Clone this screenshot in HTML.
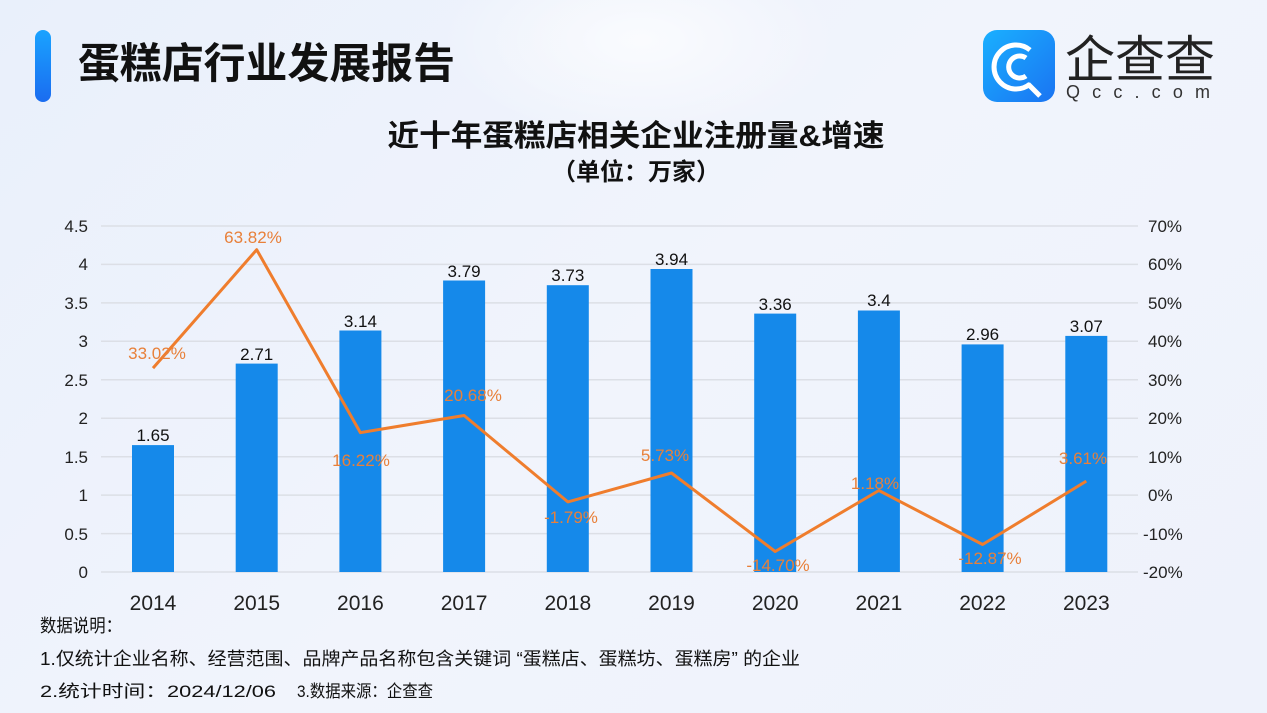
<!DOCTYPE html>
<html><head><meta charset="utf-8"><style>
html,body{margin:0;padding:0}
body{width:1267px;height:713px;overflow:hidden;background:linear-gradient(135deg,#e9f0fb 0%,#f1f4fc 50%,#eef2fb 100%);font-family:"Liberation Sans","Noto Sans CJK SC",sans-serif;position:relative}
</style></head><body>
<svg width="1267" height="713" style="position:absolute;left:0;top:0" font-family="Liberation Sans, Noto Sans CJK SC, sans-serif">
<defs><linearGradient id="bl" x1="0" y1="0" x2="0" y2="1"><stop offset="0" stop-color="#1aa3ff"/><stop offset="1" stop-color="#1a6cf0"/></linearGradient>
<linearGradient id="lg" x1="0" y1="0" x2="1" y2="1"><stop offset="0" stop-color="#1ab0ff"/><stop offset="1" stop-color="#1a74f2"/></linearGradient>
<radialGradient id="glow" cx="0.5" cy="0.5" r="0.5"><stop offset="0" stop-color="#ffffff" stop-opacity="0.7"/><stop offset="1" stop-color="#ffffff" stop-opacity="0"/></radialGradient></defs>
<ellipse cx="640" cy="40" rx="200" ry="100" fill="url(#glow)"/>
<rect x="35" y="30" width="16" height="72" rx="8" fill="url(#bl)"/>
<text x="78" y="78" font-size="42" font-weight="bold" fill="#111" textLength="377" lengthAdjust="spacingAndGlyphs">蛋糕店行业发展报告</text>
<rect x="983" y="30" width="72" height="72" rx="14" fill="url(#lg)"/>
<path d="M1030 50 A22 22 0 1 0 1030 84" fill="none" stroke="#fff" stroke-width="5"/>
<path d="M1026 58 A11 11 0 1 0 1026 76" fill="none" stroke="#fff" stroke-width="5"/>
<line x1="1028" y1="84" x2="1040" y2="96" stroke="#fff" stroke-width="5"/>
<text x="1065" y="77" font-size="50" fill="#222" textLength="150" lengthAdjust="spacingAndGlyphs">企查查</text>
<text x="1066" y="98" font-size="18" fill="#333" textLength="144" lengthAdjust="spacing">Qcc.com</text>
<text x="636" y="146" font-size="30" font-weight="bold" fill="#111" text-anchor="middle" textLength="497" lengthAdjust="spacingAndGlyphs">近十年蛋糕店相关企业注册量&amp;增速</text>
<text x="636" y="180" font-size="24" font-weight="bold" fill="#111" text-anchor="middle">（单位：万家）</text>
<g stroke="#dcdfe6" stroke-width="1.5">
<line x1="101" x2="1138" y1="226" y2="226"/><line x1="101" x2="1138" y1="264.4" y2="264.4"/><line x1="101" x2="1138" y1="302.9" y2="302.9"/><line x1="101" x2="1138" y1="341.3" y2="341.3"/><line x1="101" x2="1138" y1="379.8" y2="379.8"/><line x1="101" x2="1138" y1="418.2" y2="418.2"/><line x1="101" x2="1138" y1="456.7" y2="456.7"/><line x1="101" x2="1138" y1="495.1" y2="495.1"/><line x1="101" x2="1138" y1="533.6" y2="533.6"/><line x1="101" x2="1138" y1="572" y2="572"/>
</g>
<g font-size="17" fill="#222" text-anchor="end">
<text x="88" y="232">4.5</text><text x="88" y="270">4</text><text x="88" y="309">3.5</text><text x="88" y="347">3</text><text x="88" y="386">2.5</text><text x="88" y="424">2</text><text x="88" y="463">1.5</text><text x="88" y="501">1</text><text x="88" y="540">0.5</text><text x="88" y="578">0</text>
</g>
<g font-size="17" fill="#222" text-anchor="start">
<text x="1148" y="232">70%</text><text x="1148" y="270">60%</text><text x="1148" y="309">50%</text><text x="1148" y="347">40%</text><text x="1148" y="386">30%</text><text x="1148" y="424">20%</text><text x="1148" y="463">10%</text><text x="1148" y="501">0%</text><text x="1143" y="540">-10%</text><text x="1143" y="578">-20%</text>
</g>
<g fill="#1589ea">
<rect x="132" y="445.1" width="42" height="126.9"/><rect x="235.7" y="363.6" width="42" height="208.4"/><rect x="339.4" y="330.5" width="42" height="241.5"/><rect x="443.1" y="280.5" width="42" height="291.5"/><rect x="546.8" y="285.2" width="42" height="286.8"/><rect x="650.5" y="269" width="42" height="303"/><rect x="754.2" y="313.6" width="42" height="258.4"/><rect x="857.9" y="310.5" width="42" height="261.5"/><rect x="961.6" y="344.4" width="42" height="227.6"/><rect x="1065.3" y="335.9" width="42" height="236.1"/>
</g>
<g font-size="17" fill="#111" text-anchor="middle">
<text x="153" y="441">1.65</text><text x="256.7" y="360">2.71</text><text x="360.4" y="327">3.14</text><text x="464.1" y="277">3.79</text><text x="567.8" y="281">3.73</text><text x="671.5" y="265">3.94</text><text x="775.2" y="310">3.36</text><text x="878.9" y="306">3.4</text><text x="982.6" y="340">2.96</text><text x="1086.3" y="332">3.07</text>
</g>
<polyline fill="none" stroke="#ef7d2d" stroke-width="3" stroke-linejoin="round" points="153,368.1 256.7,249.7 360.4,432.6 464.1,415.5 567.8,501.9 671.5,473 775.2,551.5 878.9,490.5 982.6,544.5 1086.3,481.1"/>
<g font-size="17" fill="#e8803a" text-anchor="middle">
<text x="157" y="359">33.02%</text><text x="253" y="243">63.82%</text><text x="361" y="466">16.22%</text><text x="473" y="401">20.68%</text><text x="571" y="523">-1.79%</text><text x="665" y="461">5.73%</text><text x="778" y="571">-14.70%</text><text x="875" y="489">1.18%</text><text x="990" y="564">-12.87%</text><text x="1083" y="464">3.61%</text>
</g>
<g font-size="21" fill="#222" text-anchor="middle">
<text x="153" y="610">2014</text><text x="256.7" y="610">2015</text><text x="360.4" y="610">2016</text><text x="464.1" y="610">2017</text><text x="567.8" y="610">2018</text><text x="671.5" y="610">2019</text><text x="775.2" y="610">2020</text><text x="878.9" y="610">2021</text><text x="982.6" y="610">2022</text><text x="1086.3" y="610">2023</text>
</g>
<g font-size="18" fill="#111">
<text x="40" y="632" textLength="82" lengthAdjust="spacingAndGlyphs">数据说明：</text>
<text x="40" y="665" textLength="760" lengthAdjust="spacingAndGlyphs">1.仅统计企业名称、经营范围、品牌产品名称包含关键词 “蛋糕店、蛋糕坊、蛋糕房” 的企业</text>
<text x="40" y="697" font-size="17" textLength="236" lengthAdjust="spacingAndGlyphs">2.统计时间：2024/12/06</text>
<text x="297" y="697" font-size="17" textLength="136" lengthAdjust="spacingAndGlyphs">3.数据来源：企查查</text>
</g>
</svg>
</body></html>
